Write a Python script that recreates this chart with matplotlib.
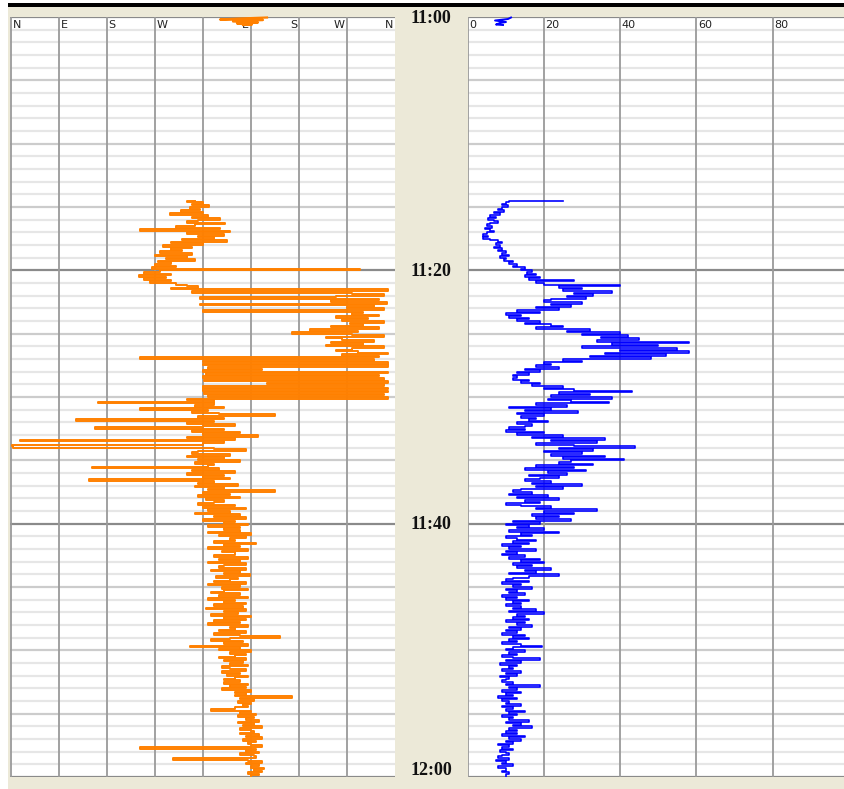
import numpy as np
import matplotlib.pyplot as plt
from matplotlib.patches import Rectangle
import matplotlib.transforms as mtransforms

# wind record 11:00 - 12:00, one sample every 7.5 s starting at 11:14:30
start_min = 14.5
step_min = 0.125

# direction in degrees, unwrapped over two turns (0 = N ... 720 = N)
direction = [
    345, 330, 360, 340, 372, 335, 355, 318,
    360, 298, 370, 340, 392, 350, 330, 401,
    345, 310, 392, 242, 411, 330, 400, 350,
    380, 320, 405, 300, 360, 285, 340, 300,
    320, 280, 340, 270, 330, 290, 345, 275,
    300, 270, 310, 265, 654, 280, 250, 300,
    240, 290, 250, 300, 260, 310, 330, 350,
    300, 707, 340, 640, 700, 610, 354, 690,
    600, 705, 354, 680, 630, 700, 360, 660,
    640, 690, 610, 670, 620, 700, 635, 660,
    600, 690, 560, 650, 527, 640, 700, 590,
    620, 680, 600, 660, 590, 700, 640, 610,
    650, 707, 620, 690, 242, 680, 360, 707,
    360, 707, 370, 470, 360, 707, 365, 690,
    360, 700, 362, 707, 480, 700, 360, 707,
    360, 707, 362, 700, 370, 707, 330, 380,
    163, 380, 345, 400, 242, 370, 340, 390,
    495, 350, 400, 122, 380, 330, 420, 360,
    158, 400, 340, 430, 360, 463, 330, 420,
    17, 400, 360, 2, 4, 380, 440, 350,
    340, 410, 330, 400, 350, 430, 345, 380,
    370, 152, 390, 340, 420, 330, 400, 360,
    410, 146, 380, 350, 425, 345, 400, 370,
    495, 360, 410, 350, 430, 365, 400, 380,
    350, 420, 360, 440, 370, 410, 345, 430,
    380, 440, 360, 420, 400, 445, 370, 430,
    400, 430, 370, 450, 390, 440, 410, 420,
    380, 459, 400, 430, 370, 445, 395, 420,
    420, 380, 445, 390, 430, 370, 440, 400,
    390, 440, 375, 430, 400, 448, 385, 425,
    410, 380, 440, 370, 430, 395, 445, 400,
    375, 430, 390, 445, 370, 420, 400, 440,
    380, 435, 365, 440, 400, 425, 375, 450,
    400, 440, 380, 430, 370, 445, 410, 420,
    390, 440, 380, 430, 504, 410, 375, 435,
    400, 445, 336, 430, 390, 450, 410, 440,
    420, 390, 440, 400, 435, 410, 445, 395,
    410, 440, 395, 430, 405, 445, 420, 400,
    430, 400, 445, 410, 440, 395, 450, 420,
    440, 420, 527, 430, 455, 425, 450, 435,
    445, 420, 375, 450, 430, 460, 425, 455,
    440, 465, 425, 455, 435, 470, 430, 450,
    455, 430, 465, 440, 470, 435, 460, 445,
    450, 470, 242, 460, 440, 465, 430, 455,
    460, 304, 445, 470, 440, 465, 450, 475,
    455, 470, 445, 465, 450,
]

# wind speed
speed = [
    25, 11, 10, 9, 10.5, 9, 8, 9.5,
    7, 8.5, 6, 7.5, 5.5, 7, 8, 6,
    5, 6.5, 4.5, 6, 7, 5, 4, 5.5,
    4, 6, 8, 9, 7.5, 8.5, 7, 9,
    8, 10, 9, 11, 8.5, 10, 9.5, 12,
    11, 13, 12, 15, 14, 17, 15.5, 18,
    15, 19, 16, 28, 18, 20, 40, 24,
    30, 25, 38, 28, 33, 26, 31, 22,
    20, 30, 22, 27, 18, 24, 13, 19,
    10, 14, 11, 16, 13, 19, 15, 22,
    25, 18, 32, 26, 40, 30, 42, 35,
    45, 34, 58, 38, 50, 30, 55, 40,
    58, 36, 52, 32, 48, 25, 30, 20,
    22, 18, 24, 15, 19, 13, 16, 12,
    13, 12, 16, 14, 19, 17, 25, 20,
    28, 43, 24, 32, 22, 38, 21, 27,
    37, 18, 26, 11, 22, 15, 29, 13,
    20, 14, 18, 16, 21, 13, 17, 15,
    11, 15, 10, 20, 13, 25, 17, 36,
    22, 34, 18, 28, 44, 24, 33, 20,
    30, 22, 36, 25, 41, 27, 24, 33,
    18, 28, 15, 31, 21, 26, 16, 24,
    19, 15, 22, 17, 30, 18, 25, 14,
    12, 17, 11, 21, 13, 24, 15, 19,
    10, 14, 22, 18, 34, 20, 28, 17,
    24, 18, 27, 12, 19, 10, 16, 13,
    20, 11, 24, 14, 17, 10, 13, 18,
    12, 16, 9, 14, 11, 18, 10, 13,
    9, 15, 11, 19, 14, 20, 12, 17,
    13, 22, 15, 18, 11, 24, 16, 12,
    10, 16, 9, 14, 12, 17, 10, 13,
    11, 15, 9, 13, 10, 16, 12, 14,
    10, 14, 12, 18, 11, 20, 13, 15,
    12, 16, 10, 15, 13, 17, 11, 14,
    10, 13, 9, 15, 12, 16, 11, 13,
    9, 14, 19.5, 12, 10, 15, 11, 13,
    9, 12, 19, 10, 14, 8.5, 13, 11,
    12, 9, 14, 10, 13, 8.5, 11, 10,
    9, 12, 10, 19, 11, 13, 9, 14,
    10, 12, 8, 13, 9, 11, 10, 14,
    9, 12, 10, 15, 11, 13, 9, 12,
    11, 16, 10, 14, 12, 17, 11, 13,
    10, 13, 9, 15, 11, 14, 10, 12,
    8, 11, 9, 12, 8.5, 10, 11, 9,
    8, 11, 7.5, 10, 9, 12, 8, 10,
    10, 9, 11, 10, 10,
]

dir_ticks = [0, 90, 180, 270, 360, 450, 540, 630, 720]
dir_labels = ['N', 'E', 'S', 'W', '', 'E', 'S', 'W', 'N']
speed_ticks = [0, 20, 40, 60, 80]
time_ticks = [0, 20, 40, 60]
time_labels = ['11:00', '11:20', '11:40', '12:00']

t_dir = start_min + step_min * np.arange(len(direction))
t_spd = start_min + step_min * np.arange(len(speed))

W, H = 845, 789
BEIGE = '#ECE9D8'
fig = plt.figure(figsize=(W / 100, H / 100), dpi=100, facecolor='white')

# window frame
fig.patches.append(Rectangle((8 / W, 0), 1, 1 - 7 / H, transform=fig.transFigure,
                             facecolor=BEIGE, edgecolor='none', zorder=-10))
fig.patches.append(Rectangle((8 / W, 1 - 7 / H), 1, 4 / H, transform=fig.transFigure,
                             facecolor='black', edgecolor='none', zorder=-9))

ax_dir = fig.add_axes([10 / W, 12 / H, 385 / W, 760 / H])
ax_spd = fig.add_axes([467.5 / W, 12 / H, 377.5 / W, 760 / H])


def setup_panel(ax, xlim, xticks):
    ax.set_xlim(*xlim)
    ax.set_ylim(60, 0)
    ax.set_facecolor('white')
    for s in ax.spines.values():
        s.set_visible(False)
    ax.set_xticks([])
    ax.set_yticks([])
    for m in range(61):
        if m % 20 == 0:
            c, z = '#8a8a8a', 1.2
        elif m % 5 == 0:
            c, z = '#cccccc', 1.1
        else:
            c, z = '#e6e6e6', 1.0
        ax.axhline(m, color=c, lw=1.6, zorder=z)
    for xt in xticks:
        ax.axvline(xt, color='#9a9a9a', lw=1.3, zorder=1.3)


setup_panel(ax_dir, (-1.875, 720), dir_ticks[:-1])
setup_panel(ax_spd, (0, 98.95), speed_ticks)

# samples held until the next reading -> horizontal strokes per sample
ax_dir.plot(direction, t_dir, color='#FF8000', lw=1.4, zorder=3, drawstyle='steps-post')
ax_spd.plot(speed, t_spd, color='#0000FF', lw=1.2, zorder=3, drawstyle='steps-post')

# axis labels along the top edge
for xt, lab in zip(dir_ticks, dir_labels):
    if not lab:
        continue
    left_half = xt < 360
    ax_dir.annotate(lab, xy=(xt, 0), xytext=(1.0 if left_half else -1.5, -2),
                    textcoords='offset points', ha='left' if left_half else 'right',
                    va='top', fontsize=8, color='#222222', zorder=4)
for xt in speed_ticks:
    ax_spd.annotate(str(xt), xy=(xt, 0), xytext=(1.0, -2), textcoords='offset points',
                    ha='left', va='top', fontsize=8, color='#222222', zorder=4)

# small series glyphs next to the scales
icon_o = [(267, 17.5), (240, 18.5), (220, 19.5), (263, 20), (233, 21.5),
          (258, 22.5), (237, 23.5), (252, 24.5), (243, 25)]
ax_dir.plot([(x - 10) / 385 for x, _ in icon_o], [1 - (y - 17) / 760 for _, y in icon_o],
            color='#FF8000', lw=1.6, transform=ax_dir.transAxes, zorder=5, clip_on=False)
icon_b = [(511, 17.5), (508, 19), (495, 20.5), (506, 22), (500, 23), (496, 24.5), (503, 25)]
ax_spd.plot([(x - 467.5) / 377.5 for x, _ in icon_b], [1 - (y - 17) / 760 for _, y in icon_b],
            color='#0000FF', lw=1.4, transform=ax_spd.transAxes, zorder=5, clip_on=False)

# time labels in the centre strip
trans = mtransforms.blended_transform_factory(fig.transFigure, ax_dir.transData)
for tt, lab in zip(time_ticks, time_labels):
    if tt == 60:
        fig.text(431 / W, 59.85, lab, transform=trans, ha='center', va='baseline',
                 fontsize=13, fontweight='bold', family='Liberation Serif', color='#111111')
    else:
        fig.text(431 / W, tt + 0.1, lab, transform=trans, ha='center', va='center',
                 fontsize=13, fontweight='bold', family='Liberation Serif', color='#111111')

fig.savefig('out.png', dpi=100, facecolor='white')
